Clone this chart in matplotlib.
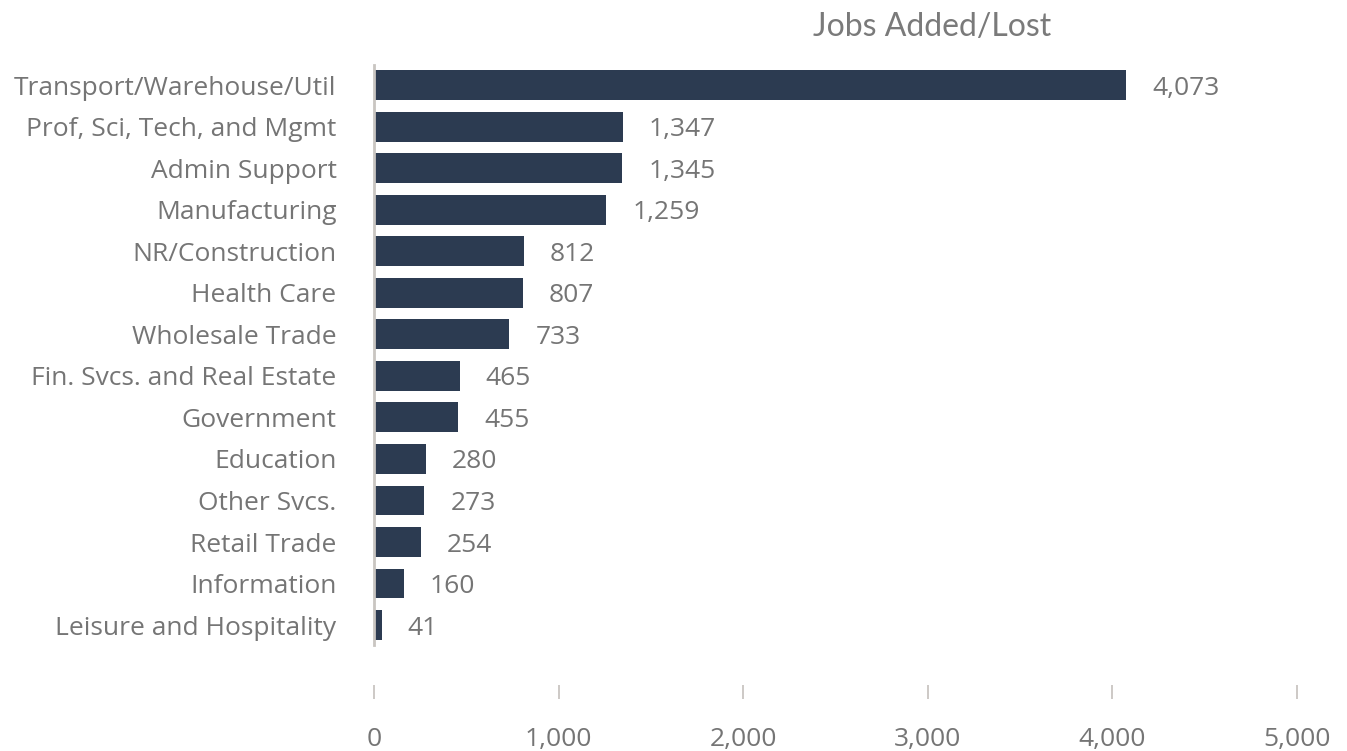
import matplotlib.pyplot as plt
import numpy as np

categories = ["Transport/Warehouse/Util", "Prof, Sci, Tech, and Mgmt", "Admin Support",
              "Manufacturing", "NR/Construction", "Health Care", "Wholesale Trade",
              "Fin. Svcs. and Real Estate", "Government", "Education", "Other Svcs.",
              "Retail Trade", "Information", "Leisure and Hospitality"]
jobs = [4073, 1347, 1345, 1259, 812, 807, 733, 465, 455, 280, 273, 254, 160, 41]
x_ticks = [0, 1000, 2000, 3000, 4000, 5000]

bar_color = "#2c3b51"
text_color = "#757575"
line_color = "#c9c5c1"

plt.rcParams['font.family'] = ['Open Sans', 'DejaVu Sans']

fig = plt.figure(figsize=(13.47, 7.51), dpi=100)
ax = fig.add_axes([374 / 1347, 1 - 699 / 751, 923 / 1347, 635 / 751])

y = np.arange(len(categories))
ax.barh(y, jobs, height=0.72, color=bar_color)
ax.set_xlim(0, 5000)
ax.set_ylim(14.78, -0.51)

for yi, v in zip(y, jobs):
    ax.annotate(f"{v:,}", (v, yi), xytext=(26, -3), textcoords="offset pixels",
                ha="left", va="center", fontsize=19, color=text_color)

ax.set_yticks(y)
ax.set_yticklabels(categories, fontsize=19, color=text_color)
ax.tick_params(axis="y", length=0, pad=27)

ax.set_xticks(x_ticks)
ax.set_xticklabels([f"{t:,}" for t in x_ticks], fontsize=19, color=text_color)
ax.tick_params(axis="x", direction="in", length=10, width=1.3, color=line_color, pad=20)

for s in ["top", "right", "bottom"]:
    ax.spines[s].set_visible(False)
ax.spines["left"].set_color(line_color)
ax.spines["left"].set_linewidth(2)
ax.spines["left"].set_bounds(13.48, -0.48)

# title sits above the bars, right of centre
fig.text(932 / 1347, 1 - 27 / 751, "Jobs Added/Lost", ha="center", va="center",
         fontsize=23, color="#7a7a7a", family=["Lato", "DejaVu Sans"])

fig.savefig("out.png", dpi=100)
